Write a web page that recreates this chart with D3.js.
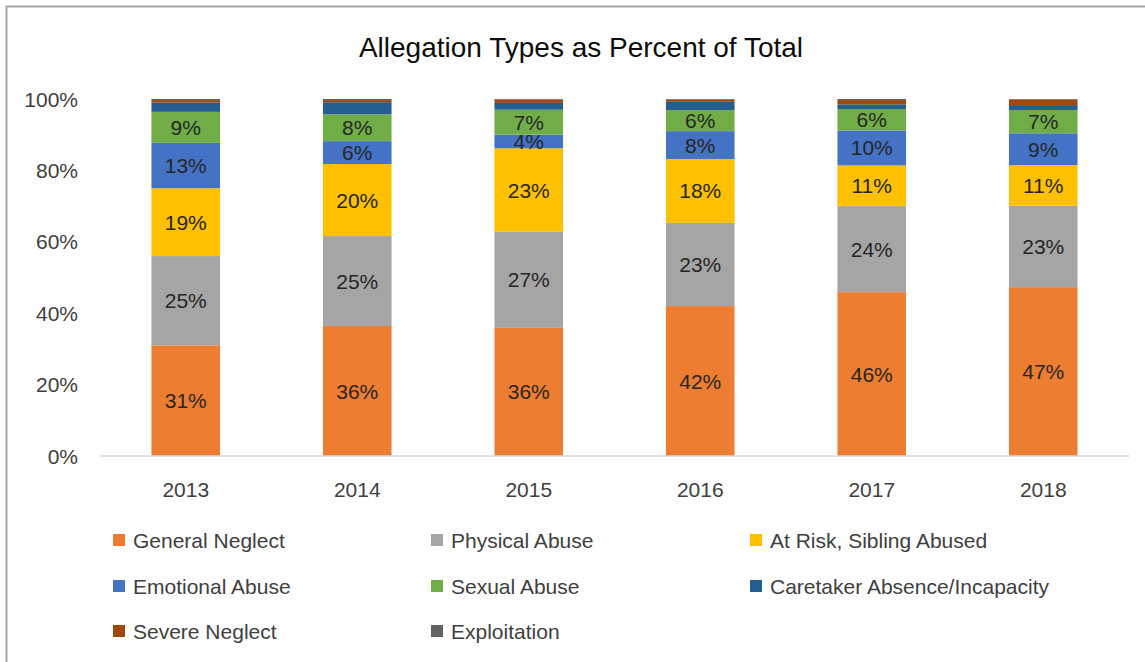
<!DOCTYPE html>
<html>
<head>
<meta charset="utf-8">
<script src="https://cdn.jsdelivr.net/npm/d3@7"></script>
<style>
  body { margin: 0; background: #fff; }
  text { font-family: "Liberation Sans", Arial, sans-serif; fill: #262626; }
</style>
</head>
<body>
<div id="plot"></div>
<script>
// allegation shares per year, percent
const years = ["2013", "2014", "2015", "2016", "2017", "2018"];
const seriesNames = [
  "General Neglect", "Physical Abuse", "At Risk, Sibling Abused",
  "Emotional Abuse", "Sexual Abuse", "Caretaker Absence/Incapacity",
  "Severe Neglect", "Exploitation"
];
const generalNeglect = [31.0, 36.4, 35.9, 42.0, 45.9, 47.3];
const physicalAbuse  = [25.0, 25.2, 26.9, 23.3, 24.1, 22.8];
const atRisk         = [19.0, 20.2, 23.4, 17.9, 11.4, 11.4];
const emotionalAbuse = [12.7, 6.4, 3.8, 7.8, 9.8, 8.9];
const sexualAbuse    = [8.7, 7.5, 7.0, 5.9, 6.0, 6.5];
const caretaker      = [2.6, 3.4, 1.9, 2.3, 1.3, 1.4];
const severeNeglect  = [0.7, 0.6, 0.9, 0.6, 1.2, 1.6];
const exploitation   = [0.3, 0.3, 0.2, 0.2, 0.3, 0.1];
const yTicks = [0, 20, 40, 60, 80, 100];

const seriesValues = [generalNeglect, physicalAbuse, atRisk, emotionalAbuse,
  sexualAbuse, caretaker, severeNeglect, exploitation];
const colors = ["#ED7D31", "#A5A5A5", "#FFC000", "#4472C4", "#70AD47",
  "#255E91", "#9E480E", "#636363"];
const labelled = 5; // only the first five series carry data labels

const W = 1145, H = 662;
const margin = { top: 99, right: 16, bottom: 206, left: 100 };
const fs = "21px";

const svg = d3.select("#plot").append("svg")
  .attr("width", W).attr("height", H);

// chart frame
svg.append("path")
  .attr("d", `M6.5,${H} V6.5 H${W}`)
  .attr("fill", "none").attr("stroke", "#a6a6a6").attr("stroke-width", 2);

svg.append("text")
  .attr("x", 581).attr("y", 57)
  .attr("text-anchor", "middle")
  .style("font-size", "28px")
  .style("fill", "#0d0d0d")
  .text("Allegation Types as Percent of Total");

const x = d3.scaleBand().domain(years)
  .range([margin.left, W - margin.right]).paddingInner(0.6).paddingOuter(0.3);
const y = d3.scaleLinear().domain([0, 100]).range([H - margin.bottom, margin.top]);

// rows for the stack
const rows = years.map((yr, i) => {
  const r = { year: yr };
  seriesNames.forEach((s, k) => { r[s] = seriesValues[k][i]; });
  return r;
});
const stacked = d3.stack().keys(seriesNames)(rows);

const g = svg.append("g");
stacked.forEach((layer, k) => {
  g.selectAll(".seg" + k)
    .data(layer)
    .enter()
    .append("rect")
    .attr("x", d => x(d.data.year))
    .attr("width", x.bandwidth())
    .attr("y", d => y(d[1]))
    .attr("height", d => y(d[0]) - y(d[1]))
    .attr("fill", colors[k]);
});

// baseline
svg.append("line")
  .attr("x1", margin.left).attr("x2", W - margin.right)
  .attr("y1", y(0)).attr("y2", y(0))
  .attr("stroke", "#d9d9d9").attr("stroke-width", 1.5);

// data labels
stacked.slice(0, labelled).forEach((layer) => {
  g.selectAll(null)
    .data(layer)
    .enter()
    .append("text")
    .attr("x", d => x(d.data.year) + x.bandwidth() / 2)
    .attr("y", d => y((d[0] + d[1]) / 2))
    .attr("dy", "0.36em")
    .attr("text-anchor", "middle")
    .style("font-size", fs)
    .text(d => Math.round(d[1] - d[0]) + "%");
});

// y axis labels
svg.selectAll(".ytick")
  .data(yTicks)
  .enter()
  .append("text")
  .attr("x", 78)
  .attr("y", d => y(d))
  .attr("dy", "0.36em")
  .attr("text-anchor", "end")
  .style("font-size", fs)
  .style("fill", "#404040")
  .text(d => d + "%");

// x axis labels
svg.selectAll(".xtick")
  .data(years)
  .enter()
  .append("text")
  .attr("x", d => x(d) + x.bandwidth() / 2)
  .attr("y", 497)
  .attr("text-anchor", "middle")
  .style("font-size", fs)
  .style("fill", "#404040")
  .text(d => d);

// legend, three columns
const legX = [113, 431, 750], legY = [540, 586, 631];
const leg = svg.selectAll(".leg")
  .data(seriesNames)
  .enter()
  .append("g")
  .attr("transform", (d, i) => `translate(${legX[i % 3]},${legY[Math.floor(i / 3)]})`);
leg.append("rect")
  .attr("x", 0).attr("y", -6).attr("width", 12).attr("height", 12)
  .attr("fill", (d, i) => colors[i]);
leg.append("text")
  .attr("x", 20).attr("dy", "0.36em")
  .style("font-size", fs)
  .style("fill", "#404040")
  .text(d => d);
</script>
</body>
</html>
